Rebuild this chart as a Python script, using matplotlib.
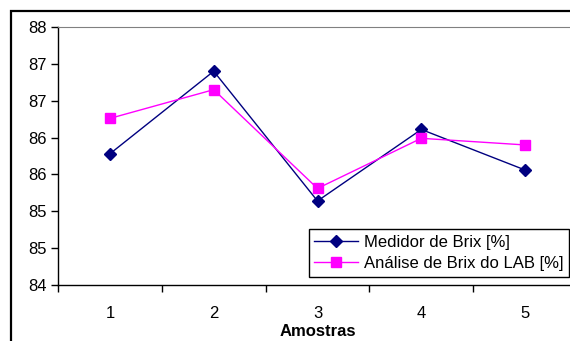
import matplotlib.pyplot as plt
from matplotlib.patches import Rectangle

plt.rcParams['font.family'] = ['Liberation Sans', 'DejaVu Sans']

amostras = [1, 2, 3, 4, 5]
medidor_brix = [85.78, 86.90, 85.14, 86.11, 85.56]
analise_lab = [86.26, 86.65, 85.31, 85.99, 85.90]
y_ticks = [84.0, 84.5, 85.0, 85.5, 86.0, 86.5, 87.0, 87.5]
y_tick_labels = ['84', '85', '85', '86', '86', '87', '87', '88']

fig = plt.figure(figsize=(5.7, 3.41), dpi=100)

# moldura externa do gráfico (cortada à direita e embaixo)
fig.patches.append(Rectangle((11 / 570, -0.1), 1.2, 1 - 11 / 341 + 0.1,
                             transform=fig.transFigure, fill=False,
                             edgecolor='black', linewidth=1.6))

ax = fig.add_axes([58 / 570, 56 / 341, 519 / 570, 258 / 341])

x = list(range(len(amostras)))
ax.plot(x, medidor_brix, color='#000080', linewidth=1.0, marker='D',
        markersize=6, label='Medidor de Brix [%]')
ax.plot(x, analise_lab, color='#FF00FF', linewidth=1.0, marker='s',
        markersize=6.5, label='Análise de Brix do LAB [%]')

ax.set_xlim(-0.5, len(amostras) - 0.5)
ax.set_ylim(84, 87.5)
ax.set_yticks(y_ticks)
ax.set_yticklabels(y_tick_labels)
ax.set_xticks(x)
ax.set_xticklabels([str(a) for a in amostras])
ax.set_xticks([i + 0.5 for i in range(-1, len(amostras))], minor=True)
ax.tick_params(axis='x', which='major', length=0, pad=15, labelsize=12)
ax.tick_params(axis='x', which='minor', length=5, width=1, direction='out')
ax.tick_params(axis='y', length=5, width=1, direction='out', labelsize=12, pad=3)

for s in ['left', 'bottom']:
    ax.spines[s].set_linewidth(1.0)
ax.spines['top'].set_color('#808080')
ax.spines['right'].set_visible(False)

ax.set_xlabel('Amostras', fontsize=12, fontweight='bold', labelpad=2)

leg = ax.legend(loc='lower right', bbox_to_anchor=(511 / 519, 8 / 258),
                fontsize=12, frameon=True, fancybox=False, framealpha=1,
                edgecolor='black', borderpad=0.35, handlelength=2.6,
                labelspacing=0.4, handletextpad=0.35, borderaxespad=0)
leg.get_frame().set_linewidth(1.0)

fig.savefig('out.png', dpi=100)
